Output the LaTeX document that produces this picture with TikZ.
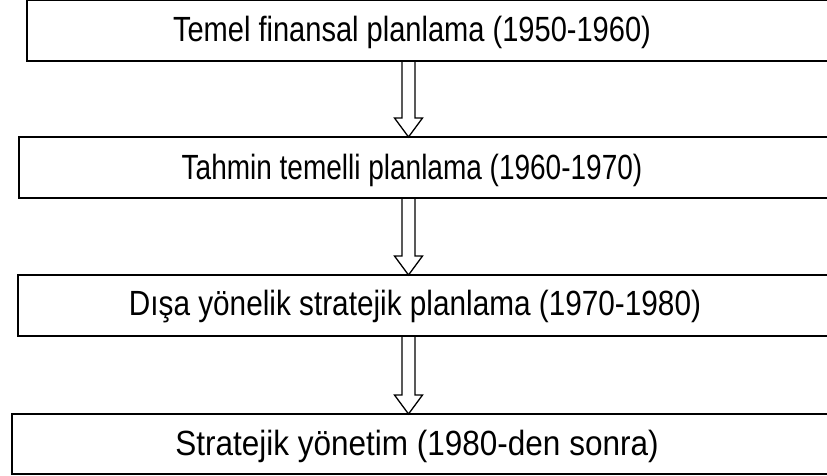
\documentclass[tikz,border=0pt]{standalone}
\usepackage{fontspec}
\setmainfont{Liberation Sans}
\usetikzlibrary{calc,fit}
\begin{document}
\begin{tikzpicture}[x=1pt,y=-1pt,
  stagebox/.style={draw=black, line width=1.8pt, inner sep=0pt, outer sep=0pt},
  lbl/.style={inner sep=0pt, font=\fontsize{35}{40}\selectfont},
  hollowarrow/.style={draw=black, line width=1.3pt, line join=miter}]
\useasboundingbox (0,0) rectangle (827,476);
\clip (0,0) rectangle (827,476);
\fill[white] (0,0) rectangle (827,476);
% boxes
\node[stagebox, fit={(27,0.5) (845,61)}] (b1) {};
\node[stagebox, fit={(19,137) (845,198)}] (b2) {};
\node[stagebox, fit={(18,275) (845,336)}] (b3) {};
\node[stagebox, fit={(12,414) (845,474)}] (b4) {};
% labels
\node[lbl] (t1) at (412,32) {\scalebox{0.83}[1]{Temel finansal planlama (1950-1960)}};
\node[lbl] (t2) at (412,170) {\scalebox{0.80}[1]{Tahmin temelli planlama (1960-1970)}};
\node[lbl] (t3) at (415,307) {\scalebox{0.85}[1]{Dışa yönelik stratejik planlama (1970-1980)}};
\node[lbl] (t4) at (417,446) {\scalebox{0.90}[1]{Stratejik yönetim (1980-den sonra)}};
% arrows
\coordinate (ax) at (408.5,0);
\foreach \a/\b in {b1/b2,b2/b3,b3/b4}{
  \draw[hollowarrow] let \p1=(\a.south -| ax), \p2=(\b.north -| ax) in
    (\x1-6.5pt,\y1) -- (\x1-6.5pt,\y2+19pt) -- (\x1-14pt,\y2+19pt) -- (\x1,\y2)
    -- (\x1+14pt,\y2+19pt) -- (\x1+6.5pt,\y2+19pt) -- (\x1+6.5pt,\y1);
}
\end{tikzpicture}
\end{document}
